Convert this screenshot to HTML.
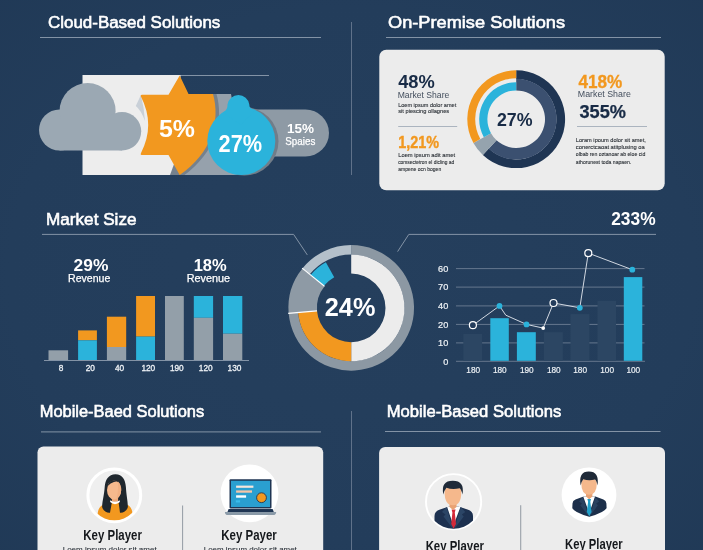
<!DOCTYPE html>
<html><head><meta charset="utf-8"><title>Infographic</title>
<style>html,body{margin:0;padding:0;background:#243d5c;}body{width:703px;height:550px;overflow:hidden;font-family:"Liberation Sans",sans-serif;}svg{display:block;will-change:transform}text{font-family:"Liberation Sans",sans-serif;}</style></head><body>
<svg width="703" height="550" viewBox="0 0 703 550">
<defs><radialGradient id="bg" cx="50%" cy="50%" r="75%"><stop offset="0" stop-color="#253f5d"/><stop offset="0.65" stop-color="#233d5b"/><stop offset="1" stop-color="#203956"/></radialGradient></defs>
<rect width="703" height="550" fill="url(#bg)"/>
<rect x="351" y="22" width="1" height="153" fill="#60728a"/>
<rect x="351" y="411" width="1" height="139" fill="#60728a"/>
<text x="48" y="27.9" font-size="17.3" fill="#fff" stroke="#fff" stroke-width="0.6" textLength="172.3" lengthAdjust="spacingAndGlyphs">Cloud-Based Solutions</text>
<rect x="40" y="37" width="281" height="1" fill="#8393a6"/>
<rect x="180" y="75" width="89" height="1" fill="#8393a6"/>
<rect x="82.5" y="75" width="98" height="100" fill="#ededed"/>
<rect x="230" y="109.5" width="99" height="47" rx="23.5" fill="#8e9aa5"/>
<path d="M184,94 L231,94 L245,175 L180,175 Z" fill="#96a1ac"/>
<path d="M200,94 L216.5,94 C220,106 220.5,122 214.5,137.5 C209.5,150 199.5,164 184.5,175 L170,175 Z" fill="#75818d"/>
<g fill="#9ba8b3"><circle cx="59.5" cy="130" r="20.5"/><circle cx="87.6" cy="111" r="28"/><circle cx="122" cy="131.3" r="19.2"/><rect x="59.5" y="120" width="62.5" height="30.5"/></g>
<path d="M140.9,95 L135.8,106 Q141,110 145,121 Q144,107 140.9,95Z" fill="#c9d0d8"/>
<path d="M179.7,75.5 L188.5,94 L213,94 C216.5,106 217,122 211,137.5 C206,150 196,164 179.7,175 L168.5,155 L141.8,155 Q140.2,155 140.8,153.4 Q155.6,125 140.8,96.3 Q140.3,94.8 141.8,94.8 L168.5,94.8 Z" fill="#f2981f"/>
<circle cx="244.3" cy="141.3" r="34.2" fill="#717d89"/>
<circle cx="241.3" cy="141" r="34" fill="#2bb3db"/>
<path d="M223,112.2 Q227.9,110 227.5,104.5 A11,11 0 0 1 249.3,104.5 Q249,108.6 255,110 L241,125Z" fill="#2bb3db"/>
<text x="177" y="137.3" font-size="24.5" font-weight="bold" fill="#fff" text-anchor="middle" textLength="36" lengthAdjust="spacingAndGlyphs">5%</text>
<text x="240.3" y="152" font-size="23.5" font-weight="bold" fill="#fff" text-anchor="middle" textLength="43.5" lengthAdjust="spacingAndGlyphs">27%</text>
<text x="300.5" y="133.2" font-size="13.5" font-weight="bold" fill="#fff" text-anchor="middle" textLength="27" lengthAdjust="spacingAndGlyphs">15%</text>
<text x="300.3" y="144.8" font-size="10.5" fill="#fff" stroke="#fff" stroke-width="0.25" text-anchor="middle" textLength="30" lengthAdjust="spacingAndGlyphs">Spaies</text>
<text x="388" y="28.4" font-size="17.3" fill="#fff" stroke="#fff" stroke-width="0.6" textLength="177" lengthAdjust="spacingAndGlyphs">On-Premise Solutions</text>
<rect x="386" y="37" width="275" height="1" fill="#8393a6"/>
<rect x="379.3" y="49.8" width="285.4" height="140.4" rx="7" fill="#ececec"/>
<text x="398.2" y="87.9" font-size="18.6" font-weight="bold" fill="#182b46" textLength="36.6" lengthAdjust="spacingAndGlyphs">48%</text>
<text x="397.7" y="97.8" font-size="9.5" fill="#434e5d" textLength="51.6" lengthAdjust="spacingAndGlyphs">Market Share</text>
<text x="398.2" y="107.0" font-size="6.0" fill="#2b3036" stroke="#2b3036" stroke-width="0.12" textLength="58" lengthAdjust="spacingAndGlyphs">Loem ipsum dolor amet</text>
<text x="398.2" y="113.2" font-size="6.0" fill="#2b3036" stroke="#2b3036" stroke-width="0.12" textLength="51" lengthAdjust="spacingAndGlyphs">sit piescing ollagnes</text>
<rect x="398.2" y="126" width="59" height="0.8" fill="#9ba7b4"/>
<text x="398.2" y="148.2" font-size="16.2" font-weight="bold" fill="#f2981f" stroke="#f2981f" stroke-width="0.4" textLength="40.8" lengthAdjust="spacingAndGlyphs">1,21%</text>
<text x="398.2" y="157.3" font-size="6.0" fill="#2b3036" stroke="#2b3036" stroke-width="0.12" textLength="57" lengthAdjust="spacingAndGlyphs">Loem ipsum adit amet</text>
<text x="398.2" y="164.1" font-size="6.0" fill="#2b3036" stroke="#2b3036" stroke-width="0.12" textLength="56" lengthAdjust="spacingAndGlyphs">comsectetron el dicling ad</text>
<text x="398.2" y="170.8" font-size="6.0" fill="#2b3036" stroke="#2b3036" stroke-width="0.12" textLength="43" lengthAdjust="spacingAndGlyphs">ampene ocn bogen</text>
<path d="M516.20,70.30A48.9,48.9 0 1 1 482.85,154.96L488.78,148.60A40.2,40.2 0 1 0 516.20,79.00Z" fill="#1f3553"/>
<path d="M516.20,78.80A40.4,40.4 0 1 1 488.65,148.75L496.56,140.26A28.8,28.8 0 1 0 516.20,90.40Z" fill="#3b5070"/>
<path d="M482.85,154.96A48.9,48.9 0 0 1 473.43,142.91L491.01,133.16A28.8,28.8 0 0 0 496.56,140.26Z" fill="#95a3ae"/>
<path d="M473.43,142.91A48.9,48.9 0 0 1 516.20,70.30L516.20,78.20A41,41 0 0 0 480.34,139.08Z" fill="#f2981f"/>
<path d="M483.84,137.14A37,37 0 0 1 516.20,82.20L516.20,90.40A28.8,28.8 0 0 0 491.01,133.16Z" fill="#2bb3db"/>
<text x="514.7" y="125.9" font-size="17.5" font-weight="bold" fill="#182b46" text-anchor="middle" textLength="35.6" lengthAdjust="spacingAndGlyphs">27%</text>
<text x="578.5" y="88.2" font-size="18" font-weight="bold" fill="#f2981f" stroke="#f2981f" stroke-width="0.3" textLength="43.8" lengthAdjust="spacingAndGlyphs">418%</text>
<text x="577.8" y="97.4" font-size="9.7" fill="#434e5d" textLength="53" lengthAdjust="spacingAndGlyphs">Market Share</text>
<text x="579.5" y="117.5" font-size="18" font-weight="bold" fill="#182b46" stroke="#182b46" stroke-width="0.25" textLength="46.5" lengthAdjust="spacingAndGlyphs">355%</text>
<rect x="577" y="126.2" width="70" height="0.8" fill="#9ba7b4"/>
<text x="575.8" y="142.2" font-size="6.0" fill="#2b3036" stroke="#2b3036" stroke-width="0.12" textLength="70" lengthAdjust="spacingAndGlyphs">Loram ipoum dolor sit amet,</text>
<text x="575.8" y="149.3" font-size="6.0" fill="#2b3036" stroke="#2b3036" stroke-width="0.12" textLength="69" lengthAdjust="spacingAndGlyphs">conerctcaoat atitplusing oa</text>
<text x="575.8" y="156.4" font-size="6.0" fill="#2b3036" stroke="#2b3036" stroke-width="0.12" textLength="69.5" lengthAdjust="spacingAndGlyphs">olbab ren oztanoar ab eloe cid</text>
<text x="575.8" y="163.5" font-size="6.0" fill="#2b3036" stroke="#2b3036" stroke-width="0.12" textLength="55.5" lengthAdjust="spacingAndGlyphs">athorunest toda napaen.</text>
<text x="46" y="224.7" font-size="17.3" fill="#fff" stroke="#fff" stroke-width="0.6" textLength="90.5" lengthAdjust="spacingAndGlyphs">Market Size</text>
<path d="M42,234.4 L293.6,234.4 L307.3,254.9" fill="none" stroke="#8393a6" stroke-width="1"/>
<path d="M397.6,251.6 L408.8,234.4 L656,234.4" fill="none" stroke="#8393a6" stroke-width="1"/>
<text x="91" y="271.2" font-size="17" font-weight="bold" fill="#fff" text-anchor="middle" textLength="34.8" lengthAdjust="spacingAndGlyphs">29%</text>
<text x="210.2" y="271.2" font-size="17" font-weight="bold" fill="#fff" text-anchor="middle" textLength="33" lengthAdjust="spacingAndGlyphs">18%</text>
<text x="89.2" y="281.6" font-size="10.8" fill="#fff" stroke="#fff" stroke-width="0.25" text-anchor="middle" textLength="42.2" lengthAdjust="spacingAndGlyphs">Revenue</text>
<text x="208.4" y="281.6" font-size="10.8" fill="#fff" stroke="#fff" stroke-width="0.25" text-anchor="middle" textLength="43.3" lengthAdjust="spacingAndGlyphs">Revenue</text>
<rect x="48.5" y="350.3" width="19.6" height="9.7" fill="#939fa9"/>
<rect x="78.1" y="330.4" width="18.8" height="9.9" fill="#f2981f"/>
<rect x="78.1" y="340.3" width="18.8" height="19.7" fill="#2bb3db"/>
<rect x="106.9" y="316.7" width="19.3" height="30.3" fill="#f2981f"/>
<rect x="106.9" y="347" width="19.3" height="13.0" fill="#939fa9"/>
<rect x="136.1" y="296" width="18.9" height="40.6" fill="#f2981f"/>
<rect x="136.1" y="336.6" width="18.9" height="23.4" fill="#2bb3db"/>
<rect x="165" y="296" width="18.8" height="64.0" fill="#939fa9"/>
<rect x="193.8" y="296" width="19.3" height="21.8" fill="#2bb3db"/>
<rect x="193.8" y="317.8" width="19.3" height="42.2" fill="#939fa9"/>
<rect x="223" y="296" width="19.3" height="37.7" fill="#2bb3db"/>
<rect x="223" y="333.7" width="19.3" height="26.3" fill="#939fa9"/>
<rect x="44" y="360" width="205" height="1" fill="#8393a6"/>
<text x="61" y="371.2" font-size="8.3" fill="#eef2f6" stroke="#eef2f6" stroke-width="0.3" text-anchor="middle">8</text>
<text x="90.3" y="371.2" font-size="8.3" fill="#eef2f6" stroke="#eef2f6" stroke-width="0.3" text-anchor="middle">20</text>
<text x="119.5" y="371.2" font-size="8.3" fill="#eef2f6" stroke="#eef2f6" stroke-width="0.3" text-anchor="middle">40</text>
<text x="148.3" y="371.2" font-size="8.3" fill="#eef2f6" stroke="#eef2f6" stroke-width="0.3" text-anchor="middle">120</text>
<text x="176.8" y="371.2" font-size="8.3" fill="#eef2f6" stroke="#eef2f6" stroke-width="0.3" text-anchor="middle">190</text>
<text x="205.7" y="371.2" font-size="8.3" fill="#eef2f6" stroke="#eef2f6" stroke-width="0.3" text-anchor="middle">120</text>
<text x="234.5" y="371.2" font-size="8.3" fill="#eef2f6" stroke="#eef2f6" stroke-width="0.3" text-anchor="middle">130</text>
<path d="M351.20,245.10A62.8,62.8 0 1 1 288.64,313.37L298.10,312.55A53.3,53.3 0 1 0 351.20,254.60Z" fill="#8c98a3"/>
<path d="M351.20,254.60A53.3,53.3 0 0 1 351.20,361.20L351.20,342.20A34.3,34.3 0 0 0 351.20,273.60Z" fill="#ececec"/>
<path d="M351.20,361.20A53.3,53.3 0 0 1 298.10,312.55L317.03,310.89A34.3,34.3 0 0 0 351.20,342.20Z" fill="#f2981f"/>
<path d="M288.64,313.37A62.8,62.8 0 0 1 302.40,268.38L324.54,286.31A34.3,34.3 0 0 0 317.03,310.89Z" fill="#8e9aa5"/>
<path d="M302.40,268.38A62.8,62.8 0 0 1 351.20,245.10L351.20,254.60A53.3,53.3 0 0 0 309.78,274.36Z" fill="#b4c0ca"/>
<path d="M310.56,274.99A52.3,52.3 0 0 1 325.84,262.16L334.23,277.29A35,35 0 0 0 324.00,285.87Z" fill="#2bb3db"/>
<path d="M317.0,310.9L288.2,313.4" stroke="#fff" stroke-width="1.1"/>
<path d="M324.5,286.3L302.1,268.1" stroke="#fff" stroke-width="1.1"/>
<text x="350.1" y="316.2" font-size="25" font-weight="bold" fill="#fff" text-anchor="middle" textLength="50.6" lengthAdjust="spacingAndGlyphs">24%</text>
<rect x="456" y="268.1" width="188.5" height="1" fill="#65778e"/>
<rect x="456" y="286.6" width="188.5" height="1" fill="#65778e"/>
<rect x="456" y="305.4" width="188.5" height="1" fill="#65778e"/>
<rect x="456" y="323.9" width="188.5" height="1" fill="#65778e"/>
<rect x="456" y="342.4" width="188.5" height="1" fill="#65778e"/>
<rect x="456" y="360.8" width="189" height="1" fill="#66778d"/>
<text x="448.3" y="271.8" font-size="9" fill="#eef2f6" stroke="#eef2f6" stroke-width="0.2" text-anchor="end" textLength="10.2" lengthAdjust="spacingAndGlyphs">60</text>
<text x="448.3" y="290.3" font-size="9" fill="#eef2f6" stroke="#eef2f6" stroke-width="0.2" text-anchor="end" textLength="10.2" lengthAdjust="spacingAndGlyphs">70</text>
<text x="448.3" y="309.09999999999997" font-size="9" fill="#eef2f6" stroke="#eef2f6" stroke-width="0.2" text-anchor="end" textLength="10.2" lengthAdjust="spacingAndGlyphs">40</text>
<text x="448.3" y="327.59999999999997" font-size="9" fill="#eef2f6" stroke="#eef2f6" stroke-width="0.2" text-anchor="end" textLength="10.2" lengthAdjust="spacingAndGlyphs">20</text>
<text x="448.3" y="346.09999999999997" font-size="9" fill="#eef2f6" stroke="#eef2f6" stroke-width="0.2" text-anchor="end" textLength="10.2" lengthAdjust="spacingAndGlyphs">10</text>
<text x="448.3" y="364.59999999999997" font-size="9" fill="#eef2f6" stroke="#eef2f6" stroke-width="0.2" text-anchor="end" textLength="5.1" lengthAdjust="spacingAndGlyphs">0</text>
<rect x="463.3" y="334" width="18.8" height="26.8" fill="#2c4663"/>
<rect x="490.3" y="318.2" width="18.5" height="42.6" fill="#2bb3db"/>
<rect x="516.9" y="332.2" width="18.9" height="28.6" fill="#2bb3db"/>
<rect x="543.9" y="332.2" width="18.9" height="28.6" fill="#2c4663"/>
<rect x="570.5" y="314.1" width="18.9" height="46.7" fill="#2c4663"/>
<rect x="597.5" y="300.8" width="18.5" height="60.0" fill="#2c4663"/>
<rect x="623.8" y="277.1" width="18.5" height="83.7" fill="#2bb3db"/>
<path d="M472.9,325.2 L499.5,305.9 L505.8,315.2 L526.5,324.4 L543.2,328.1 L553.5,303 L579.8,307.8 L588.3,253.1 L632.3,269.7" fill="none" stroke="#e4e9ef" stroke-width="0.9"/>
<circle cx="472.9" cy="325.2" r="3.5" fill="#243d5c" stroke="#fff" stroke-width="1.2"/>
<circle cx="553.5" cy="303" r="3.5" fill="#243d5c" stroke="#fff" stroke-width="1.2"/>
<circle cx="588.3" cy="253.1" r="3.5" fill="#243d5c" stroke="#fff" stroke-width="1.2"/>
<circle cx="499.5" cy="305.9" r="2.9" fill="#2bb3db"/>
<circle cx="526.5" cy="324.4" r="2.9" fill="#2bb3db"/>
<circle cx="579.8" cy="307.8" r="2.9" fill="#2bb3db"/>
<circle cx="632.3" cy="269.7" r="2.9" fill="#2bb3db"/>
<circle cx="543.2" cy="328.1" r="1.9" fill="#fff"/>
<text x="473.2" y="373.2" font-size="9.2" fill="#eef2f6" stroke="#eef2f6" stroke-width="0.2" text-anchor="middle" textLength="13.8" lengthAdjust="spacingAndGlyphs">180</text>
<text x="499.8" y="373.2" font-size="9.2" fill="#eef2f6" stroke="#eef2f6" stroke-width="0.2" text-anchor="middle" textLength="13.8" lengthAdjust="spacingAndGlyphs">180</text>
<text x="526.8" y="373.2" font-size="9.2" fill="#eef2f6" stroke="#eef2f6" stroke-width="0.2" text-anchor="middle" textLength="13.8" lengthAdjust="spacingAndGlyphs">190</text>
<text x="553.8" y="373.2" font-size="9.2" fill="#eef2f6" stroke="#eef2f6" stroke-width="0.2" text-anchor="middle" textLength="13.8" lengthAdjust="spacingAndGlyphs">180</text>
<text x="580.0999999999999" y="373.2" font-size="9.2" fill="#eef2f6" stroke="#eef2f6" stroke-width="0.2" text-anchor="middle" textLength="13.8" lengthAdjust="spacingAndGlyphs">180</text>
<text x="607.0999999999999" y="373.2" font-size="9.2" fill="#eef2f6" stroke="#eef2f6" stroke-width="0.2" text-anchor="middle" textLength="13.8" lengthAdjust="spacingAndGlyphs">100</text>
<text x="633.3" y="373.2" font-size="9.2" fill="#eef2f6" stroke="#eef2f6" stroke-width="0.2" text-anchor="middle" textLength="13.8" lengthAdjust="spacingAndGlyphs">100</text>
<text x="633.4" y="225.3" font-size="17.5" font-weight="bold" fill="#fff" text-anchor="middle" textLength="44.4" lengthAdjust="spacingAndGlyphs">233%</text>
<text x="39.7" y="417.0" font-size="17.3" fill="#fff" stroke="#fff" stroke-width="0.6" textLength="164.5" lengthAdjust="spacingAndGlyphs">Mobile-Baed Solutions</text>
<rect x="41" y="431.4" width="280" height="1" fill="#8393a6"/>
<rect x="37.5" y="446.4" width="285.7" height="120" rx="6" fill="#ececec"/>
<rect x="182.2" y="505.5" width="0.9" height="50" fill="#88919b"/>
<text x="112.6" y="540.3" font-size="15.4" font-weight="bold" fill="#15181c" text-anchor="middle" textLength="58.5" lengthAdjust="spacingAndGlyphs">Key Player</text>
<text x="249" y="540.3" font-size="15.4" font-weight="bold" fill="#15181c" text-anchor="middle" textLength="55.5" lengthAdjust="spacingAndGlyphs">Key Payer</text>
<text x="62.7" y="552.4" font-size="7.8" fill="#2a3038" stroke="#2a3038" stroke-width="0.1" textLength="94" lengthAdjust="spacingAndGlyphs">Loem ipsum dolor sit amet</text>
<text x="203.8" y="552.4" font-size="7.8" fill="#2a3038" stroke="#2a3038" stroke-width="0.1" textLength="93" lengthAdjust="spacingAndGlyphs">Loem ipsum dolor sit amet</text>
<defs><clipPath id="c1"><circle cx="114.3" cy="495.3" r="25"/></clipPath></defs>
<circle cx="114.3" cy="495.3" r="26.4" fill="#efefef" stroke="#fff" stroke-width="3"/>
<g clip-path="url(#c1)">
<path d="M96,523 L98,511.5 Q99.3,506 104,504.6 L110,502.6 L120,502.6 L126.5,504.6 Q131,506 132.2,511.5 L134,523Z" fill="#f2981f"/>
<path d="M115.5,474.3 C108.5,474.3 105.2,480 104.7,487 C104.2,495 102.4,500 102.1,507 C103,511 107,513.2 110,512.8 L112,501.6 L118.5,501.6 L120,512.8 C123,513.2 127,511 127.9,507 C127.7,500 126.3,495 125.9,487 C125.4,480 122.5,474.3 115.5,474.3Z" fill="#1f272e"/>
<path d="M111.9,494 h6.2 v7 q-3.1,2 -6.2,0Z" fill="#eea777"/>
<path d="M110.2,500.2 Q115,503.4 119.7,500.2 L119.9,502 Q115,506.3 110.1,502Z" fill="#fff"/>
<ellipse cx="114.1" cy="490" rx="7.1" ry="9.6" fill="#f6b98d"/>
<path d="M118,481.5 Q121.5,485 121.2,490 Q121,496 116,499.4 Q118.5,494 118,481.5Z" fill="#f1b083"/>
<defs><clipPath id="cf"><ellipse cx="114.1" cy="490" rx="7.3" ry="9.8"/></clipPath></defs>
<path clip-path="url(#cf)" d="M106.6,488.2 Q108.8,482.3 118.2,480.9 L122,482 L121,474 L104,475 L104,489Z" fill="#1f272e"/>
</g>
<circle cx="249.5" cy="493.4" r="28.9" fill="#fff"/>
<rect x="229.5" y="479.2" width="42" height="29.4" rx="1" fill="#1f3553"/>
<rect x="231" y="480.8" width="39" height="26.2" fill="#2a9fd0"/>
<rect x="236.1" y="485.6" width="17.3" height="2.2" fill="#f6e6dc"/>
<rect x="236.1" y="490.4" width="15.9" height="2.3" fill="#f6c5a8"/>
<rect x="236.1" y="495.3" width="10" height="2.4" fill="#fff"/>
<rect x="235.8" y="500.3" width="4.3" height="2.2" fill="#3bbcec"/>
<circle cx="261.5" cy="497.7" r="4.9" fill="#f2981f" stroke="#1f3553" stroke-width="0.9"/>
<path d="M228.6,508.9 H272.6 L273.8,512 H227.4Z" fill="#1f3553"/>
<path d="M224.9,512 H276.2 Q276.2,515.1 273,515.1 H228 Q224.9,515.1 224.9,512Z" fill="#8a9aa8"/>
<text x="386.8" y="417.0" font-size="17.3" fill="#fff" stroke="#fff" stroke-width="0.6" textLength="174.4" lengthAdjust="spacingAndGlyphs">Mobile-Based Solutions</text>
<rect x="385" y="431" width="275.5" height="1" fill="#8393a6"/>
<rect x="379.1" y="446.9" width="285.9" height="120" rx="6" fill="#ececec"/>
<rect x="520.3" y="505.2" width="0.9" height="50" fill="#88919b"/>
<text x="454.8" y="551" font-size="15.4" font-weight="bold" fill="#15181c" text-anchor="middle" textLength="58.3" lengthAdjust="spacingAndGlyphs">Key Player</text>
<text x="593.8" y="548.8" font-size="15.4" font-weight="bold" fill="#15181c" text-anchor="middle" textLength="57.5" lengthAdjust="spacingAndGlyphs">Key Player</text>
<defs><clipPath id="c2"><circle cx="453.6" cy="501.7" r="27.1"/></clipPath></defs>
<circle cx="453.6" cy="501.7" r="27.6" fill="#eeeeee" stroke="#fff" stroke-width="1.9"/>
<g clip-path="url(#c2)">
<path d="M434.5,531 L434.5,516 Q434.5,511 440,509.5 L449,506.6 L458.5,506.6 L467.5,509.5 Q473,511 473,516 L473,531Z" fill="#1d3150"/>
<path d="M447,506.6 L460.6,506.6 L455.5,520 L453.6,528 L451.5,520Z" fill="#fff"/>
<path d="M446.5,507 L442,512 L445.5,514.5 L443.5,516.5 L453,529 Z M460.8,507 L465.3,512 L461.8,514.5 L463.8,516.5 L454.2,529Z" fill="#2b4566"/>
<path d="M451.6,509.6 L455.6,509.6 L454.8,512.6 L456,524 L453.6,528.7 L451.2,524 L452.4,512.6Z" fill="#d42a3a"/>
<g transform="translate(-0.7,0)">
<path d="M450.2,500 h7 v7 l-3.5,3 l-3.5,-3Z" fill="#e9a273"/>
<path d="M445.3,492 Q445.3,486.5 453.7,486.5 Q462,486.5 462,492 Q462,505.3 453.7,505.3 Q445.3,505.3 445.3,492Z" fill="#f5b88c"/>
<path d="M444,494.5 Q441.3,480.8 453.5,480.8 Q465.6,480.8 463.2,494.5 Q462,489.5 460.3,488.3 Q453,490 447.2,487.8 Q445.2,490 444,494.5Z" fill="#1f2a38"/>
</g>
</g>
<circle cx="589" cy="494.9" r="27.4" fill="#fff"/>
<path d="M583.6,496.5 L575.5,499.5 Q572.6,500.6 572.5,503.5 L572.3,508 Q574,512.5 589.3,516.7 Q604.5,512.5 606.6,508 L606.4,503.5 Q606.2,500.6 603.4,499.5 L595.4,496.5Z" fill="#1c2f4a"/>
<path d="M583.2,496.5 L595,496.5 L591,508 L589.2,516 L587.4,508Z" fill="#fff"/>
<path d="M582.8,497 L579,501.5 L582,503.5 L580.3,505.3 L588.6,516.3 Z M595.4,497 L599.2,501.5 L596.2,503.5 L597.9,505.3 L589.8,516.3Z" fill="#29415f"/>
<path d="M587.4,499 L591,499 L590.3,501.7 L591.6,512 L589.2,516.3 L586.8,512 L588.1,501.7Z" fill="#1f9fc8"/>
<path d="M586,490.5 h6.4 v6 l-3.2,2.8 l-3.2,-2.8Z" fill="#e9a273"/>
<path d="M581.3,483.5 Q581.3,478 589,478 Q596.8,478 596.8,483.5 Q596.8,494.8 589,494.8 Q581.3,494.8 581.3,483.5Z" fill="#f5b88c"/>
<path d="M580.6,485.5 Q578.2,471.6 588.8,471.6 Q599.6,471.6 597.5,485.5 Q596.5,480.7 595,479.6 Q588.5,481.2 583.3,479.2 Q581.5,481.2 580.6,485.5Z" fill="#1f2a38"/>
</svg></body></html>
